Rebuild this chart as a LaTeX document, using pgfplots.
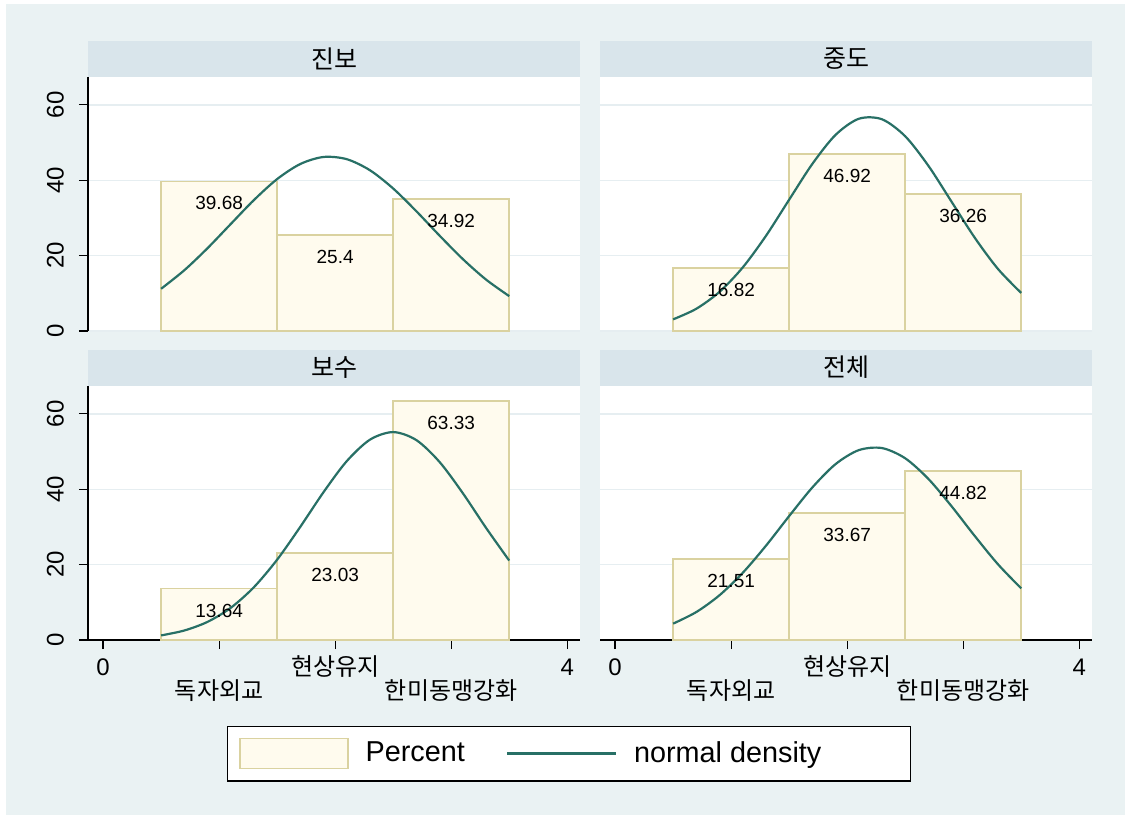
\documentclass[border=0pt]{standalone}
\usepackage{pgfplots}
\pgfplotsset{compat=1.18}
\usepackage{fontspec}
\setmainfont{Liberation Sans}
\newfontfamily\kr{Noto Sans CJK KR}
\definecolor{bgc}{RGB}{234,242,243}
\definecolor{titlebg}{RGB}{217,229,235}
\definecolor{barfill}{RGB}{255,251,238}
\definecolor{baredge}{RGB}{218,210,160}
\definecolor{linec}{RGB}{40,112,102}
\definecolor{gridc}{RGB}{230,238,241}
\pgfplotsset{
 panel/.style={
  scale only axis, width=246pt, height=127pt,
  xmin=-0.13, xmax=4.11, ymin=0, ymax=67.4,
  axis background/.style={fill=white},
  clip=false,
  ytick={0,20,40,60}, ymajorgrids, grid style={gridc, line width=0.7pt},
  xtick={0,2,4}, xticklabels={0,{\kr 현상유지},4},
  extra x ticks={1,3}, extra x tick labels={{\kr 독자외교},{\kr 한미동맹강화}},
  extra x tick style={xticklabel style={yshift=-12pt}},
  tick align=outside,
  major tick length=4.5pt,
  tick style={black, line width=0.6pt},
  axis line style={black, line width=0.6pt},
  /pgf/number format/assume math mode=true,
  tick label style={font=\fontsize{12}{14}\selectfont},
  yticklabel style={rotate=90, anchor=south},
  typeset ticklabels with strut,
  every axis title/.style={at={(0.5,1)}, anchor=south, fill=titlebg, minimum width=246pt, minimum height=18pt, inner sep=0pt, font=\fontsize{12.5}{14}\selectfont},
 },
 lefty/.style={axis y line*=left},
 noy/.style={axis y line*=left, y axis line style={draw=none}, yticklabels={}, ytick style={draw=none}},
 bottomx/.style={axis x line*=bottom},
 nox/.style={axis x line=none},
 barplot/.style={ybar, bar width=1, bar shift=0pt, fill=barfill, draw=baredge, line width=0.9pt, forget plot,
   nodes near coords={\pgfmathprintnumber[assume math mode=true]{\pgfplotspointmeta}},
   every node near coord/.append style={anchor=center, yshift=-11pt, font=\fontsize{9.5}{11}\selectfont, text=black}},
 curve/.style={smooth, no markers, linec, line width=1.1pt, forget plot},
}
\begin{document}
\begin{tikzpicture}
\fill[white] (0pt,0pt) rectangle (562.5pt,407.5pt);
\fill[bgc] (3pt,0pt) rectangle (562.5pt,405.5pt);

\begin{axis}[panel, lefty, nox, at={(44pt,242pt)}, anchor=south west, title={\kr 진보}]
\addplot[barplot] coordinates {(1,39.68) (2,25.4) (3,34.92)};
\addplot[curve] coordinates {(0.5,11.20) (0.7,16.12) (0.9,21.97) (1.1,28.38) (1.3,34.75) (1.5,40.31) (1.7,44.32) (1.9,46.18) (2.1,45.59) (2.3,42.65) (2.5,37.81) (2.7,31.77) (2.9,25.30) (3.1,19.09) (3.3,13.65) (3.5,9.25)};
\end{axis}

\begin{axis}[panel, noy, nox, at={(300pt,242pt)}, anchor=south west, title={\kr 중도}]
\addplot[barplot] coordinates {(1,16.82) (2,46.92) (3,36.26)};
\addplot[curve] coordinates {(0.5,3.09) (0.7,5.90) (0.9,10.39) (1.1,16.86) (1.3,25.24) (1.5,34.84) (1.7,44.34) (1.9,52.04) (2.1,56.31) (2.3,56.18) (2.5,51.68) (2.7,43.84) (2.9,34.29) (3.1,24.73) (3.3,16.45) (3.5,10.09)};
\end{axis}

\begin{axis}[panel, lefty, bottomx, at={(44pt,87.5pt)}, anchor=south west, title={\kr 보수},
  legend columns=2, legend cell align=left,
  legend style={at={(0.9776,-0.4469)}, anchor=center, draw=black, line width=0.6pt, fill=white,
    inner xsep=5.5pt, inner ysep=5.75pt, font=\fontsize{14.4}{16}\selectfont,
    nodes={inner sep=0pt},
    /tikz/every odd column/.append style={column sep=8.5pt},
    /tikz/every even column/.append style={column sep=20.5pt}}]
\addplot[barplot] coordinates {(1,13.64) (2,23.03) (3,63.33)};
\addplot[curve] coordinates {(0.5,1.22) (0.7,2.52) (0.9,4.81) (1.1,8.53) (1.3,14.02) (1.5,21.32) (1.7,30.05) (1.9,39.24) (2.1,47.46) (2.3,53.16) (2.5,55.17) (2.7,53.04) (2.9,47.23) (3.1,38.97) (3.3,29.77) (3.5,21.08)};
\addlegendimage{legend image code/.code={\draw[fill=barfill, draw=baredge, line width=0.9pt] (0pt,-7.5pt) rectangle (54pt,7.5pt);}}
\addlegendentry{Percent}
\addlegendimage{legend image code/.code={\draw[linec, line width=1.1pt] (0pt,0pt) -- (54.5pt,0pt);}}
\addlegendentry{\makebox[132.5pt][l]{normal density}}
\end{axis}

\begin{axis}[panel, noy, bottomx, at={(300pt,87.5pt)}, anchor=south west, title={\kr 전체}]
\addplot[barplot] coordinates {(1,21.51) (2,33.67) (3,44.82)};
\addplot[curve] coordinates {(0.5,4.34) (0.7,7.42) (0.9,11.88) (1.1,17.82) (1.3,25.01) (1.5,32.88) (1.7,40.48) (1.9,46.67) (2.1,50.38) (2.3,50.93) (2.5,48.22) (2.7,42.74) (2.9,35.48) (3.1,27.58) (3.3,20.08) (3.5,13.69)};
\end{axis}
\end{tikzpicture}
\end{document}
